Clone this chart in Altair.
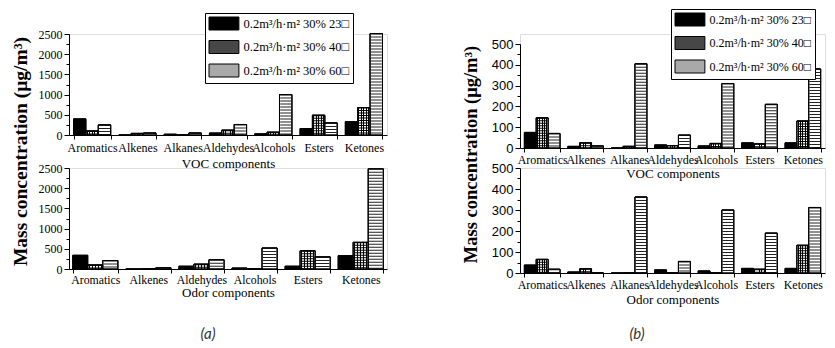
import altair as alt
import pandas as pd

voc_categories = ["Aromatics", "Alkenes", "Alkanes", "Aldehydes", "Alcohols", "Esters", "Ketones"]
odor_a_categories = ["Aromatics", "Alkenes", "Aldehydes", "Alcohols", "Esters", "Ketones"]
odor_b_categories = ["Aromatics", "Alkenes", "Alkanes", "Aldehydes", "Alcohols", "Esters", "Ketones"]
series = ["0.2m³/h·m² 30% 23□", "0.2m³/h·m² 30% 40□", "0.2m³/h·m² 30% 60□"]

a_voc_23 = [400, 0, 20, 50, 30, 160, 330]
a_voc_40 = [100, 40, 0, 120, 70, 490, 680]
a_voc_60 = [250, 50, 50, 260, 1000, 300, 2510]

a_odor_23 = [340, 0, 70, 25, 70, 330]
a_odor_40 = [100, 0, 120, 10, 450, 660]
a_odor_60 = [210, 30, 230, 520, 300, 2480]

b_voc_23 = [75, 8, 0, 15, 10, 25, 25]
b_voc_40 = [145, 25, 8, 12, 22, 20, 130]
b_voc_60 = [70, 10, 405, 62, 310, 210, 380]

b_odor_23 = [38, 5, 0, 15, 10, 22, 22]
b_odor_40 = [65, 20, 0, 0, 0, 18, 132]
b_odor_60 = [18, 0, 362, 55, 300, 190, 312]

SERIF = "Liberation Serif"
SANS = "Liberation Sans"


def long_df(cats, v23, v40, v60):
    rows = []
    for s, vals in zip(series, [v23, v40, v60]):
        for c, v in zip(cats, vals):
            rows.append({"cat": c, "series": s, "value": v})
    return pd.DataFrame(rows)


def stripes(n, frac):
    stops = [alt.GradientStop(color="white", offset=0)]
    for k in range(n):
        a = k / n + (1 - frac) / n / 2
        b = a + frac / n
        stops += [alt.GradientStop(color="white", offset=a), alt.GradientStop(color="black", offset=a),
                  alt.GradientStop(color="black", offset=b), alt.GradientStop(color="white", offset=b)]
    stops.append(alt.GradientStop(color="white", offset=1))
    return alt.LinearGradient(gradient="linear", stops=stops, x1=0, x2=1, y1=0, y2=0)


def panel(df, cats, ymax, step, major, width, height, pin, pout, xtitle, rule_w,
          yrange=None, ytitle=None, tx=0, ty=0, tsize=18, lab_font=SERIF, lab_size=12,
          legend=None, lab_pad=3, title_pad=0, caption=None, xlab_size=12):
    yscale = dict(domain=[0, ymax], nice=False)
    if yrange is not None:
        yscale["range"] = yrange
    yax = dict(values=list(range(0, ymax + 1, step)), format="d",
               labelExpr=f"datum.value % {major} === 0 ? datum.label : ''",
               tickSize={"condition": {"test": f"datum.value % {major} === 0", "value": 5}, "value": 3},
               domainColor="black", tickColor="black", labelColor="black",
               labelFont=lab_font, labelFontSize=lab_size, labelPadding=2, grid=False)
    if ytitle:
        yax.update(title=ytitle, titleX=tx, titleY=ty, titleAngle=270, titleFont=SERIF,
                   titleFontSize=tsize, titleFontWeight="bold", titleAlign="center",
                   titleBaseline="middle", titleColor="black")
    else:
        yax.update(title=None)
    x_enc = alt.X("cat:N", sort=cats,
                  scale=alt.Scale(domain=cats, paddingInner=pin, paddingOuter=pout),
                  axis=alt.Axis(title=xtitle, tickBand="extent", tickSize=4, labelAngle=0,
                                labelOverlap=False, labelPadding=lab_pad, labelFont=SERIF,
                                labelFontSize=xlab_size, labelColor="black", domainColor="black",
                                tickColor="black", titleFont=SERIF, titleFontSize=13,
                                titleFontWeight="normal", titlePadding=title_pad, titleColor="black"))
    xo_enc = alt.XOffset("series:N", scale=alt.Scale(domain=series, paddingInner=0, paddingOuter=0))
    y_enc = alt.Y("value:Q", scale=alt.Scale(**yscale), axis=alt.Axis(**yax))

    color = alt.Color("series:N", scale=alt.Scale(domain=series, range=["black", "#474747", "#a9a9a9"]),
                      title=None, legend=legend)
    base = alt.Chart(df).mark_bar(stroke="black", strokeWidth=1).encode(
        x=x_enc, xOffset=xo_enc, y=y_enc, color=color)
    grid = alt.Chart(df).transform_filter(alt.datum.series == series[1]).mark_bar(
        fill=stripes(5, 0.4), stroke="black", strokeWidth=1).encode(x=x_enc, xOffset=xo_enc, y=y_enc)
    white = alt.Chart(df).transform_filter(alt.datum.series == series[2]).mark_bar(
        fill="white", stroke="black", strokeWidth=1).encode(x=x_enc, xOffset=xo_enc, y=y_enc)
    glines = alt.Chart(df).transform_filter(alt.datum.series == series[1]).mark_rule(
        color="black", strokeWidth=rule_w, strokeDash=[1, 1.5]).encode(
        x=x_enc, xOffset=xo_enc, y=y_enc, y2=alt.datum(0))
    dlines = alt.Chart(df).transform_filter(alt.datum.series == series[2]).mark_rule(
        color="#222", strokeWidth=rule_w, strokeDash=[1, 2]).encode(
        x=x_enc, xOffset=xo_enc, y=y_enc, y2=alt.datum(0))
    outline = alt.Chart(df).mark_bar(fillOpacity=0, stroke="black", strokeWidth=1).encode(
        x=x_enc, xOffset=xo_enc, y=y_enc)
    layers = [base, grid, white, glines, dlines, outline]
    if caption is not None:
        txt, cx, cy = caption
        layers.append(alt.Chart(pd.DataFrame({"t": [txt]})).mark_text(
            font="Lato", fontStyle="italic", fontSize=15, color="#333").encode(
            text="t:N", x=alt.value(cx), y=alt.value(cy)))
    return alt.layer(*layers).properties(width=width, height=height)


def legend_at(lx, ly, size):
    return alt.Legend(orient="none", legendX=lx, legendY=ly, direction="vertical",
                      symbolType="M-1,-1H3.6V1H-1Z", symbolSize=169, symbolStrokeColor="black",
                      symbolStrokeWidth=1, labelFont=SERIF, labelFontSize=size, labelColor="black",
                      labelOffset=21, rowPadding=5.5, padding=3.5, strokeColor="black",
                      fillColor="white", labelLimit=300)


YT = "Mass concentration (μg/m³)"
BW = 305

a_top = panel(long_df(voc_categories, a_voc_23, a_voc_40, a_voc_60), voc_categories, 2500, 250, 500,
              318, 101, 0.18, 0.1, "VOC components", 11,
              ytitle=YT, tx=-49, ty=117, tsize=19.5, legend=legend_at(136, -21, 12.5), lab_pad=3, title_pad=4)
b_top = panel(long_df(voc_categories, b_voc_23, b_voc_40, b_voc_60), voc_categories, 500, 50, 100,
              BW, 114, 0.18, 0.1, "VOC components", 10.5, yrange=[114, 10],
              ytitle=YT, tx=-50, ty=120, tsize=18.5, lab_font=SANS, lab_size=13,
              legend=legend_at(151, -25, 12), lab_pad=2, title_pad=2)
a_bot = panel(long_df(odor_a_categories, a_odor_23, a_odor_40, a_odor_60), odor_a_categories, 2500, 250, 500,
              318, 101, 0.15, 0.07, "Odor components", 13.5, lab_pad=1, title_pad=1,
              caption=("(a)", 139, 166), xlab_size=11.8)
b_bot = panel(long_df(odor_b_categories, b_odor_23, b_odor_40, b_odor_60), odor_b_categories, 500, 50, 100,
              BW, 105, 0.18, 0.1, "Odor components", 10.5, lab_font=SANS, lab_size=13,
              lab_pad=2, title_pad=3, caption=("(b)", 117, 166))

chart = alt.concat(a_top, b_top, a_bot, b_bot, columns=2,
                   spacing={"row": 20, "column": 133}, bounds="flush").resolve_scale(
    x="independent", y="independent", color="independent", xOffset="independent").resolve_legend(
    color="independent").properties(padding={"left": 1, "top": 0, "right": 0, "bottom": 0}
).configure_view(stroke=None).configure(background="white")

chart.save("out.html", embed_options={"renderer": "svg", "actions": False})
